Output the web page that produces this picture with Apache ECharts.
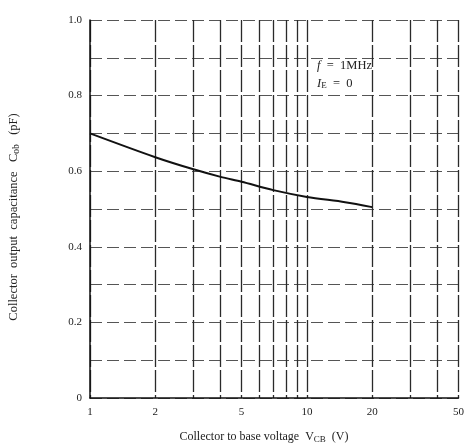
<!DOCTYPE html>
<html><head><meta charset="utf-8">
<script src="https://cdn.jsdelivr.net/npm/echarts@6/dist/echarts.min.js"></script>
<style>html,body{margin:0;padding:0;background:#fff}#c{width:467px;height:448px}</style>
</head><body><div id="c"></div>
<script>
const xTickValues = [1, 2, 3, 4, 5, 6, 7, 8, 9, 10, 20, 30, 40, 50];
const xLabelValues = [1, 2, 5, 10, 20, 50];
const vcb = [1, 2, 3, 4, 5, 7, 10, 15, 20];
const cob = [0.70, 0.637, 0.605, 0.585, 0.572, 0.55, 0.532, 0.518, 0.505];

const FONT = 'Liberation Serif';
const chart = echarts.init(document.getElementById('c'));
chart.setOption({
  animation: false,
  backgroundColor: '#fff',
  grid: {left: 90, top: 20, right: 8, bottom: 50},
  xAxis: {
    type: 'log', logBase: 10, min: 1, max: 50,
    axisLine: {show: true, lineStyle: {color: '#111', width: 1.5}},
    axisTick: {show: false, customValues: xTickValues},
    axisLabel: {customValues: xLabelValues, fontFamily: FONT, fontSize: 11, color: '#222', margin: 9},
    splitLine: {show: true, lineStyle: {color: '#2a2a2a', width: 1.3, type: [22, 3]}}
  },
  yAxis: {
    type: 'value', min: 0, max: 1, interval: 0.1,
    axisLine: {show: true, lineStyle: {color: '#111', width: 1.5}},
    axisTick: {show: false},
    axisLabel: {
      fontFamily: FONT, fontSize: 11, color: '#222', margin: 8,
      formatter: v => {
        const k = Math.round(v * 10);
        if (k % 2 !== 0) return '';
        return k === 0 ? '0' : (k / 10).toFixed(1);
      }
    },
    splitLine: {show: true, lineStyle: {color: '#555', width: 1, type: [12, 5]}}
  },
  graphic: [
    {type: 'text', x: 264, y: 437, style: {
      text: 'Collector to base voltage  V{s|CB}  (V)', fontFamily: FONT, fontSize: 12, fill: '#222',
      align: 'center', verticalAlign: 'middle',
      rich: {s: {fontFamily: FONT, fontSize: 9, fill: '#222', padding: [5, 0, 0, 0]}}
    }},
    {type: 'text', x: 14, y: 217, rotation: Math.PI / 2, style: {
      text: 'Collector  output  capacitance   C{s|ob}   (pF)', fontFamily: FONT, fontSize: 12.5, fill: '#222',
      align: 'center', verticalAlign: 'middle',
      rich: {s: {fontFamily: FONT, fontSize: 9.5, fill: '#222', padding: [5, 0, 0, 0]}}
    }},
    {type: 'text', left: 317, top: 59, style: {
      text: '{i|f}  =  1MHz', fontFamily: FONT, fontSize: 12.5, fill: '#222',
      rich: {i: {fontStyle: 'italic', fontFamily: FONT, fontSize: 12.5, fill: '#222'}}
    }},
    {type: 'text', left: 317, top: 77, style: {
      text: '{i|I}{s|E}  =  0', fontFamily: FONT, fontSize: 12.5, fill: '#222',
      rich: {i: {fontStyle: 'italic', fontFamily: FONT, fontSize: 12.5, fill: '#222'}, s: {fontFamily: FONT, fontSize: 9, fill: '#222', padding: [5, 0, 0, 0]}}
    }}
  ],
  series: [{
    type: 'line', data: vcb.map((x, i) => [x, cob[i]]),
    smooth: 0.3, symbol: 'none',
    lineStyle: {color: '#111', width: 2}
  }]
});
</script></body></html>
